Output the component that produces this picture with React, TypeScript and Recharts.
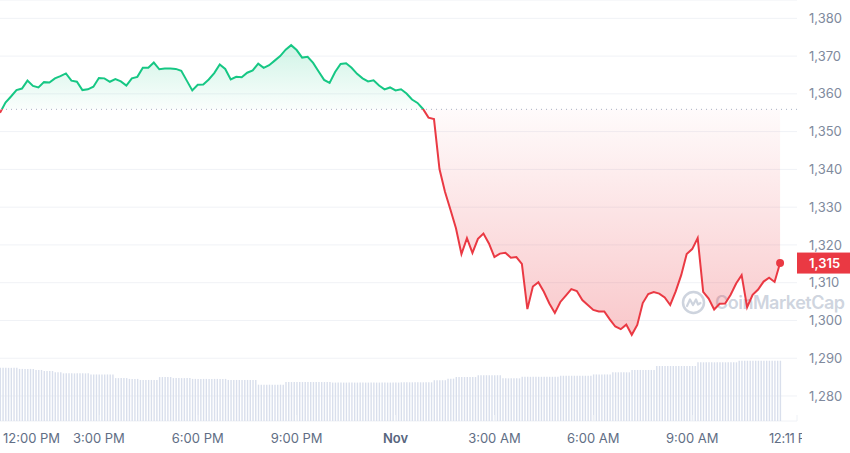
import React from "react";
import {
  Area,
  Bar,
  CartesianGrid,
  ComposedChart,
  ReferenceDot,
  ReferenceLine,
  XAxis,
  YAxis
} from "recharts";

document.body.style.margin = "0";
document.body.style.background = "#ffffff";

const FONT = "Inter, 'Noto Sans', sans-serif";
const GREEN = "#16c784";
const RED = "#ea3943";

// price every 10 min, starting 12:00 PM
const PRICE = [
  1355.0, 1357.7, 1359.3, 1361.0, 1361.4, 1363.5, 1362.1, 1361.7, 1363.1, 1363.0,
  1364.1, 1364.7, 1365.4, 1363.5, 1363.2, 1361.0, 1361.2, 1361.9, 1364.2, 1364.1,
  1363.2, 1363.9, 1363.3, 1362.2, 1364.1, 1364.5, 1366.9, 1366.9, 1368.3, 1366.5,
  1366.7, 1366.7, 1366.6, 1366.1, 1363.5, 1360.9, 1362.4, 1362.5, 1363.8, 1365.5,
  1367.8, 1366.6, 1363.8, 1364.5, 1364.4, 1365.6, 1366.2, 1368.0, 1366.9, 1367.6,
  1368.8, 1370.0, 1371.7, 1372.9, 1371.6, 1369.6, 1369.8, 1368.2, 1365.9, 1363.7,
  1362.9, 1365.8, 1367.9, 1368.1, 1366.9, 1365.3, 1364.1, 1363.3, 1363.6, 1362.2,
  1361.2, 1361.7, 1360.9, 1361.2, 1360.1, 1358.5, 1357.6, 1356.0, 1353.7, 1353.3,
  1340.1, 1334.1, 1329.3, 1324.4, 1317.6, 1321.8, 1317.9, 1321.6, 1323.0, 1320.4,
  1316.8, 1317.7, 1317.9, 1316.6, 1316.8, 1315.0, 1303.0, 1309.0, 1310.1, 1307.6,
  1304.5, 1302.0, 1304.9, 1306.6, 1308.3, 1307.8, 1305.4, 1304.1, 1302.8, 1302.4,
  1302.4, 1300.3, 1298.4, 1297.7, 1298.9, 1296.2, 1298.8, 1304.6, 1307.0, 1307.5,
  1307.1, 1306.1, 1304.1, 1307.7, 1312.0, 1317.6, 1318.9, 1321.8, 1307.6, 1305.8,
  1302.9, 1304.4, 1304.5, 1306.8, 1309.8, 1312.0, 1303.5, 1306.8, 1308.2, 1310.3,
  1311.3, 1310.2, 1315.2
];

// rolling 24h volume (B), every 5 min
const VOLUME = [
  1.01, 1.01, 1.01, 1.01, 1.01, 1.01, 1.01,
  0.99, 0.99, 0.99, 0.99, 0.99, 0.99,
  0.97, 0.97, 0.97,
  0.95, 0.95, 0.95, 0.95,
  0.925, 0.925, 0.925,
  0.905, 0.905, 0.905, 0.905, 0.905, 0.905, 0.905, 0.905, 0.905, 0.905,
  0.885, 0.885, 0.885, 0.885, 0.885, 0.885, 0.885, 0.885, 0.885,
  0.815, 0.815, 0.815, 0.815, 0.815,
  0.8, 0.8, 0.8, 0.8,
  0.78, 0.78, 0.78, 0.78, 0.78, 0.78, 0.78,
  0.835, 0.835, 0.835, 0.835, 0.835,
  0.815, 0.815, 0.815, 0.815, 0.815, 0.815, 0.815,
  0.8, 0.8, 0.8, 0.8, 0.8, 0.8, 0.8, 0.8, 0.8, 0.8, 0.8, 0.8, 0.8,
  0.78, 0.78, 0.78, 0.78, 0.78, 0.78, 0.78, 0.78, 0.78, 0.78, 0.78,
  0.69, 0.69, 0.69, 0.69, 0.69, 0.69, 0.69, 0.69, 0.69, 0.69,
  0.74, 0.74, 0.74, 0.74, 0.74, 0.74, 0.74, 0.74, 0.74, 0.74, 0.74, 0.74, 0.74, 0.74, 0.74, 0.74, 0.74,
  0.73, 0.73, 0.73, 0.73, 0.73, 0.73, 0.73, 0.73, 0.73, 0.73, 0.73, 0.73, 0.73,
  0.73, 0.73, 0.73, 0.73, 0.73, 0.73, 0.73, 0.73, 0.73, 0.73, 0.73, 0.73,
  0.735, 0.735, 0.735, 0.735, 0.735, 0.735, 0.735, 0.735, 0.735, 0.735, 0.735, 0.735,
  0.775, 0.775, 0.775, 0.775, 0.775,
  0.805, 0.805, 0.805,
  0.835, 0.835, 0.835, 0.835, 0.835, 0.835, 0.835, 0.835,
  0.87, 0.87, 0.87, 0.87, 0.87, 0.87, 0.87, 0.87, 0.87,
  0.81, 0.81, 0.81, 0.81, 0.81, 0.81, 0.81,
  0.84, 0.84, 0.84, 0.84, 0.84, 0.84, 0.84, 0.84, 0.84, 0.84, 0.84, 0.84, 0.84, 0.84,
  0.86, 0.86, 0.86, 0.86, 0.86, 0.86, 0.86, 0.86, 0.86, 0.86, 0.86, 0.86,
  0.885, 0.885, 0.885, 0.885, 0.885, 0.885, 0.885,
  0.925, 0.925, 0.925, 0.925, 0.925, 0.925, 0.925,
  0.97, 0.97, 0.97, 0.97, 0.97, 0.97, 0.97, 0.97, 0.97,
  1.045, 1.045, 1.045, 1.045, 1.045, 1.045, 1.045, 1.045, 1.045, 1.045, 1.045, 1.045, 1.045, 1.045, 1.045,
  1.115, 1.115, 1.115, 1.115, 1.115, 1.115, 1.115, 1.115, 1.115, 1.115, 1.115, 1.115, 1.115, 1.115, 1.115,
  1.145, 1.145, 1.145, 1.145, 1.145, 1.145, 1.145, 1.145, 1.145, 1.145, 1.145, 1.145, 1.145, 1.145, 1.145, 1.145
];

const OPEN_PRICE = 1355.9;
const PRICE_TICKS = [1280, 1290, 1300, 1310, 1320, 1330, 1340, 1350, 1360, 1370, 1380];
const TIME_TICKS = [0, 3, 6, 9, 12, 15, 18, 21, 24.18];
const TIME_LABELS = ["12:00 PM", "3:00 PM", "6:00 PM", "9:00 PM", "Nov", "3:00 AM", "6:00 AM", "9:00 AM", "12:11 PM"];

const STEP_H = 5 / 60;
const rows = VOLUME.map((vol, i) => ({
  h: i * STEP_H,
  vol,
  price: i % 2 === 0 && PRICE[i / 2] !== undefined ? PRICE[i / 2] : null
}));

const LAST_PRICE = PRICE[PRICE.length - 1];
const LAST_H = (PRICE.length - 1) * 2 * STEP_H;
const MAX_P = Math.max(...PRICE);
const MIN_P = Math.min(...PRICE);
const SPLIT = (MAX_P - OPEN_PRICE) / (MAX_P - MIN_P);

function XTick(props: any) {
  const { x, y, payload } = props;
  const idx = TIME_TICKS.indexOf(payload.value);
  const label = TIME_LABELS[idx];
  const first = idx === 0;
  const last = idx === TIME_TICKS.length - 1;
  const isDay = label === "Nov";
  return (
    <g>
      {!first && <line x1={x} x2={x} y1={y - 6} y2={y} stroke="#eef1f6" />}
      {last && (
        <clipPath id="lastTickClip">
          <rect x={0} y={0} width={802} height={453} />
        </clipPath>
      )}
      <text
        x={first ? x + 3 : last ? x - 4 : x}
        y={y + 22}
        textAnchor={first ? "start" : "middle"}
        fill={isDay ? "#58667e" : "#616e85"}
        fontSize={13}
        fontWeight={isDay ? 600 : 400}
        fontFamily={FONT}
        letterSpacing={last ? -0.4 : 0}
        clipPath={last ? "url(#lastTickClip)" : undefined}
      >
        {label}
      </text>
    </g>
  );
}

function PriceTag(props: any) {
  const vb = props.viewBox || {};
  const x = vb.x + vb.width;
  const y = vb.y;
  return (
    <g>
      <rect x={x} y={y - 10.5} width={53} height={21} fill={RED} />
      <text x={x + 12} y={y} dy="0.36em" fill="#ffffff" fontSize={13} fontWeight={600} fontFamily={FONT}>
        {Math.round(LAST_PRICE).toLocaleString("en-US")}
      </text>
    </g>
  );
}

function Watermark() {
  return (
    <div
      style={{
        position: "absolute",
        left: 681,
        top: 290,
        display: "flex",
        alignItems: "center",
        gap: 9,
        color: "rgba(166,176,195,0.55)",
        fontFamily: FONT,
        fontWeight: 600,
        fontSize: 18,
        letterSpacing: -0.5,
        pointerEvents: "none"
      }}
    >
      <svg width={25} height={25} viewBox="0 0 25 25">
        <circle cx={12.5} cy={12.5} r={10.5} fill="none" stroke="rgba(166,176,195,0.55)" strokeWidth={2.5} />
        <path
          d="M6 16 L9 9.5 L12 15 L15 9.5 L17 14.5 L19.5 13"
          fill="none"
          stroke="rgba(166,176,195,0.55)"
          strokeWidth={2.2}
          strokeLinejoin="round"
          strokeLinecap="round"
        />
      </svg>
      <span>CoinMarketCap</span>
    </div>
  );
}

export default function App() {
  return (
    <div style={{ position: "relative", width: 850, height: 453, background: "#fff" }}>
      <Watermark />
      <div style={{ position: "absolute", left: 0, top: 0 }}>
        <ComposedChart width={850} height={453} data={rows} margin={{ top: 0, right: 0, bottom: 0, left: 0 }}>
          <defs>
            <linearGradient id="lineGrad" x1="0" y1="0" x2="0" y2="1">
              <stop offset={0} stopColor={GREEN} />
              <stop offset={SPLIT} stopColor={GREEN} />
              <stop offset={SPLIT} stopColor={RED} />
              <stop offset={1} stopColor={RED} />
            </linearGradient>
            <linearGradient id="fillGrad" x1="0" y1="0" x2="0" y2="1">
              <stop offset={0} stopColor={GREEN} stopOpacity={0.2} />
              <stop offset={SPLIT} stopColor={GREEN} stopOpacity={0.02} />
              <stop offset={SPLIT} stopColor={RED} stopOpacity={0.02} />
              <stop offset={1} stopColor={RED} stopOpacity={0.28} />
            </linearGradient>
          </defs>
          <CartesianGrid yAxisId="price" vertical={false} stroke="#f0f2f6" />
          <XAxis
            dataKey="h"
            type="number"
            domain={[0, 24.18]}
            ticks={TIME_TICKS}
            interval={0}
            allowDataOverflow
            height={32}
            axisLine={false}
            tickLine={false}
            tickSize={0}
            tickMargin={0}
            tick={<XTick />}
          />
          <YAxis
            yAxisId="price"
            orientation="right"
            domain={[1273.38, 1384.85]}
            ticks={PRICE_TICKS}
            allowDataOverflow
            width={53}
            axisLine={false}
            tickLine={false}
            tickSize={0}
            tickMargin={12}
            tickFormatter={(v: number) => v.toLocaleString("en-US")}
            tick={{ fill: "#808a9d", fontSize: 13, fontFamily: FONT, textAnchor: "start" }}
          />
          <YAxis yAxisId="vol" hide domain={[0, 8]} />
          <Bar yAxisId="vol" dataKey="vol" fill="#d9dfec" barSize={1.4} isAnimationActive={false} />
          <ReferenceLine
            yAxisId="price"
            y={OPEN_PRICE}
            stroke="#a6b0c3"
            strokeDasharray="1 4"
            strokeWidth={1}
          />
          <Area
            yAxisId="price"
            type="linear"
            dataKey="price"
            connectNulls
            baseValue={OPEN_PRICE}
            stroke="url(#lineGrad)"
            strokeWidth={2}
            fill="url(#fillGrad)"
            fillOpacity={1}
            dot={false}
            activeDot={false}
            isAnimationActive={false}
          />
          <ReferenceDot yAxisId="price" x={LAST_H} y={LAST_PRICE} r={4} fill={RED} stroke="none" />
          <ReferenceLine yAxisId="price" y={LAST_PRICE} stroke="none" label={<PriceTag />} />
        </ComposedChart>
      </div>
    </div>
  );
}
